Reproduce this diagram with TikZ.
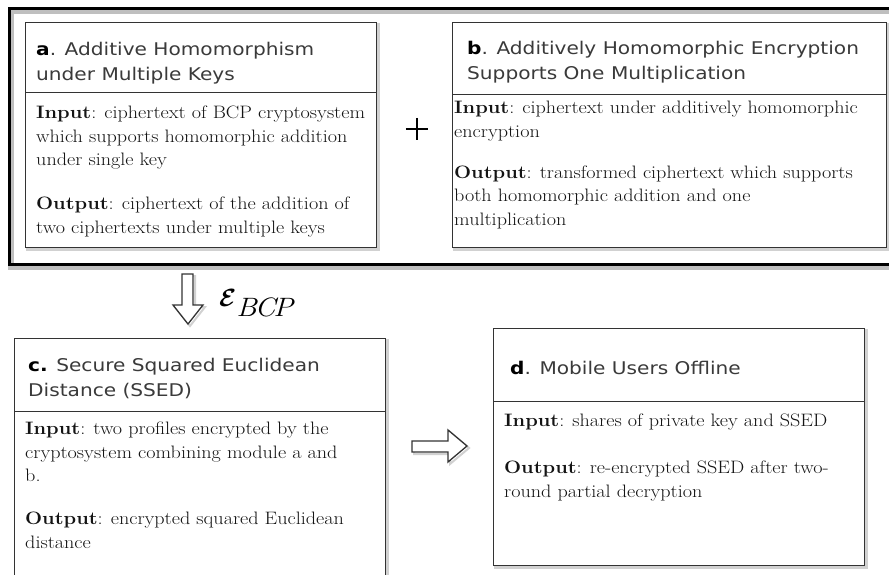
\documentclass[tikz,border=0pt]{standalone}
\usepackage{amsmath}
\usepackage{fontspec}
\setmainfont[FakeStretch=1.12]{Latin Modern Roman}
\newfontfamily\titlefont[FakeStretch=1.15]{DejaVu Sans}
\usetikzlibrary{calc}

\definecolor{titlegray}{HTML}{3A3A3A}
\definecolor{boxgray}{HTML}{333333}

% multi-line text nodes are anchored at the baseline of their last line
\tikzset{
  module/.style={draw=boxgray, line width=1.3pt, fill=white, rectangle,
                 anchor=north west, inner sep=0pt},
  strokeshadow/.style={draw=black, opacity=0.18, line width=3pt},
  divider/.style={draw=boxgray, line width=1pt},
  heading/.style={anchor=base west, inner sep=0pt, align=left, text=titlegray,
                  font=\titlefont\fontsize{17.5}{25}\selectfont},
  bodytext/.style={anchor=base west, inner sep=0pt, align=left, text=black!92,
                   font=\fontsize{18}{23.5}\selectfont},
  blockarrow/.style={draw=boxgray, line width=1.3pt, fill=white, line join=miter}
}

\begin{document}
\begin{tikzpicture}[x=1pt,y=-1pt]
\useasboundingbox (0,0) rectangle (889,574);
\fill[white] (0,0) rectangle (889,574);

% outer frame grouping modules a and b, with its stroke shadow
\draw[draw=black, opacity=0.25, line width=6pt] (11,11) rectangle (899,267);
\node[draw=black, line width=3pt, rectangle, anchor=north west, inner sep=0pt,
      minimum width=888pt, minimum height=256pt] (frame) at (8,7) {};

% module a
\draw[strokeshadow] (27,24) rectangle (378,249);
\node[module, minimum width=351pt, minimum height=225pt] (boxA) at (25,22) {};
\draw[divider] (boxA.west |- 0,92) -- (boxA.east |- 0,92);
\node[heading] (titleA) at (36,80)
  {\textcolor{black}{\textbf{a}}. Additive Homomorphism\\under Multiple Keys};
\node[bodytext] (bodyA) at (36,233)
  {\textbf{Input}: ciphertext of BCP cryptosystem\\
   which supports homomorphic addition\\
   under single key\\[20.5pt]
   \textbf{Output}: ciphertext of the addition of\\
   two ciphertexts under multiple keys};

% plus sign between a and b
\node[inner sep=0pt, minimum size=22pt] (plus) at (417,129) {};
\draw[line width=2pt] (plus.west) -- (plus.east) (plus.north) -- (plus.south);

% module b
\draw[strokeshadow] (454,24) rectangle (888,249);
\node[module, minimum width=434pt, minimum height=225pt] (boxB) at (452,22) {};
\draw[divider] (boxB.west |- 0,94) -- (boxB.east |- 0,94);
\node[heading] (titleB) at (467,79)
  {\textcolor{black}{\textbf{b}}. Additively Homomorphic Encryption\\Supports One Multiplication};
\node[bodytext] (bodyB) at (454,225)
  {\textbf{Input}: ciphertext under additively homomorphic\\
   encryption\\[17.5pt]
   \textbf{Output}: transformed ciphertext which supports\\
   both homomorphic addition and one\\
   multiplication};

% hollow arrow from the frame down to module c
\draw[strokeshadow, line width=2pt]
  (184,276) -- (195,276) -- (195,307) -- (205,307) -- (190,326) -- (175,307) -- (184,307) -- cycle;
\draw[blockarrow]
  (182,274) -- (193,274) -- (193,305) -- (203,305) -- (188,324) -- (173,305) -- (182,305) -- cycle;
\node[anchor=base west, inner sep=0pt, font=\fontsize{38}{38}\selectfont] (eps) at (219,306)
  {$\boldsymbol{\mathcal{E}}_{\mathit{BCP}}$};

% module c
\draw[strokeshadow] (16,340) rectangle (387,582);
\node[module, minimum width=371pt, minimum height=242pt] (boxC) at (14,338) {};
\draw[divider] (boxC.west |- 0,411) -- (boxC.east |- 0,411);
\node[heading] (titleC) at (28,396)
  {\textcolor{black}{\textbf{c.}} Secure Squared Euclidean\\Distance (SSED)};
\node[bodytext] (bodyC) at (25,548)
  {\textbf{Input}: two profiles encrypted by the\\
   cryptosystem combining module a and\\
   b.\\[19.5pt]
   \textbf{Output}: encrypted squared Euclidean\\
   distance};

% hollow arrow from module c to module d
\draw[strokeshadow, line width=2pt]
  (414,443) -- (450,443) -- (450,432) -- (469,448) -- (450,464) -- (450,454) -- (414,454) -- cycle;
\draw[blockarrow]
  (412,441) -- (448,441) -- (448,430) -- (467,446) -- (448,462) -- (448,452) -- (412,452) -- cycle;

% module d
\draw[strokeshadow] (495,330) rectangle (866,567);
\node[module, minimum width=371pt, minimum height=237pt] (boxD) at (493,328) {};
\draw[divider] (boxD.west |- 0,401) -- (boxD.east |- 0,401);
\node[heading] (titleD) at (510,374)
  {\textcolor{black}{\textbf{d}}. Mobile Users Offline};
\node[bodytext] (bodyD) at (504,497)
  {\textbf{Input}: shares of private key and SSED\\[23.5pt]
   \textbf{Output}: re-encrypted SSED after two-\\
   round partial decryption};
\end{tikzpicture}
\end{document}
